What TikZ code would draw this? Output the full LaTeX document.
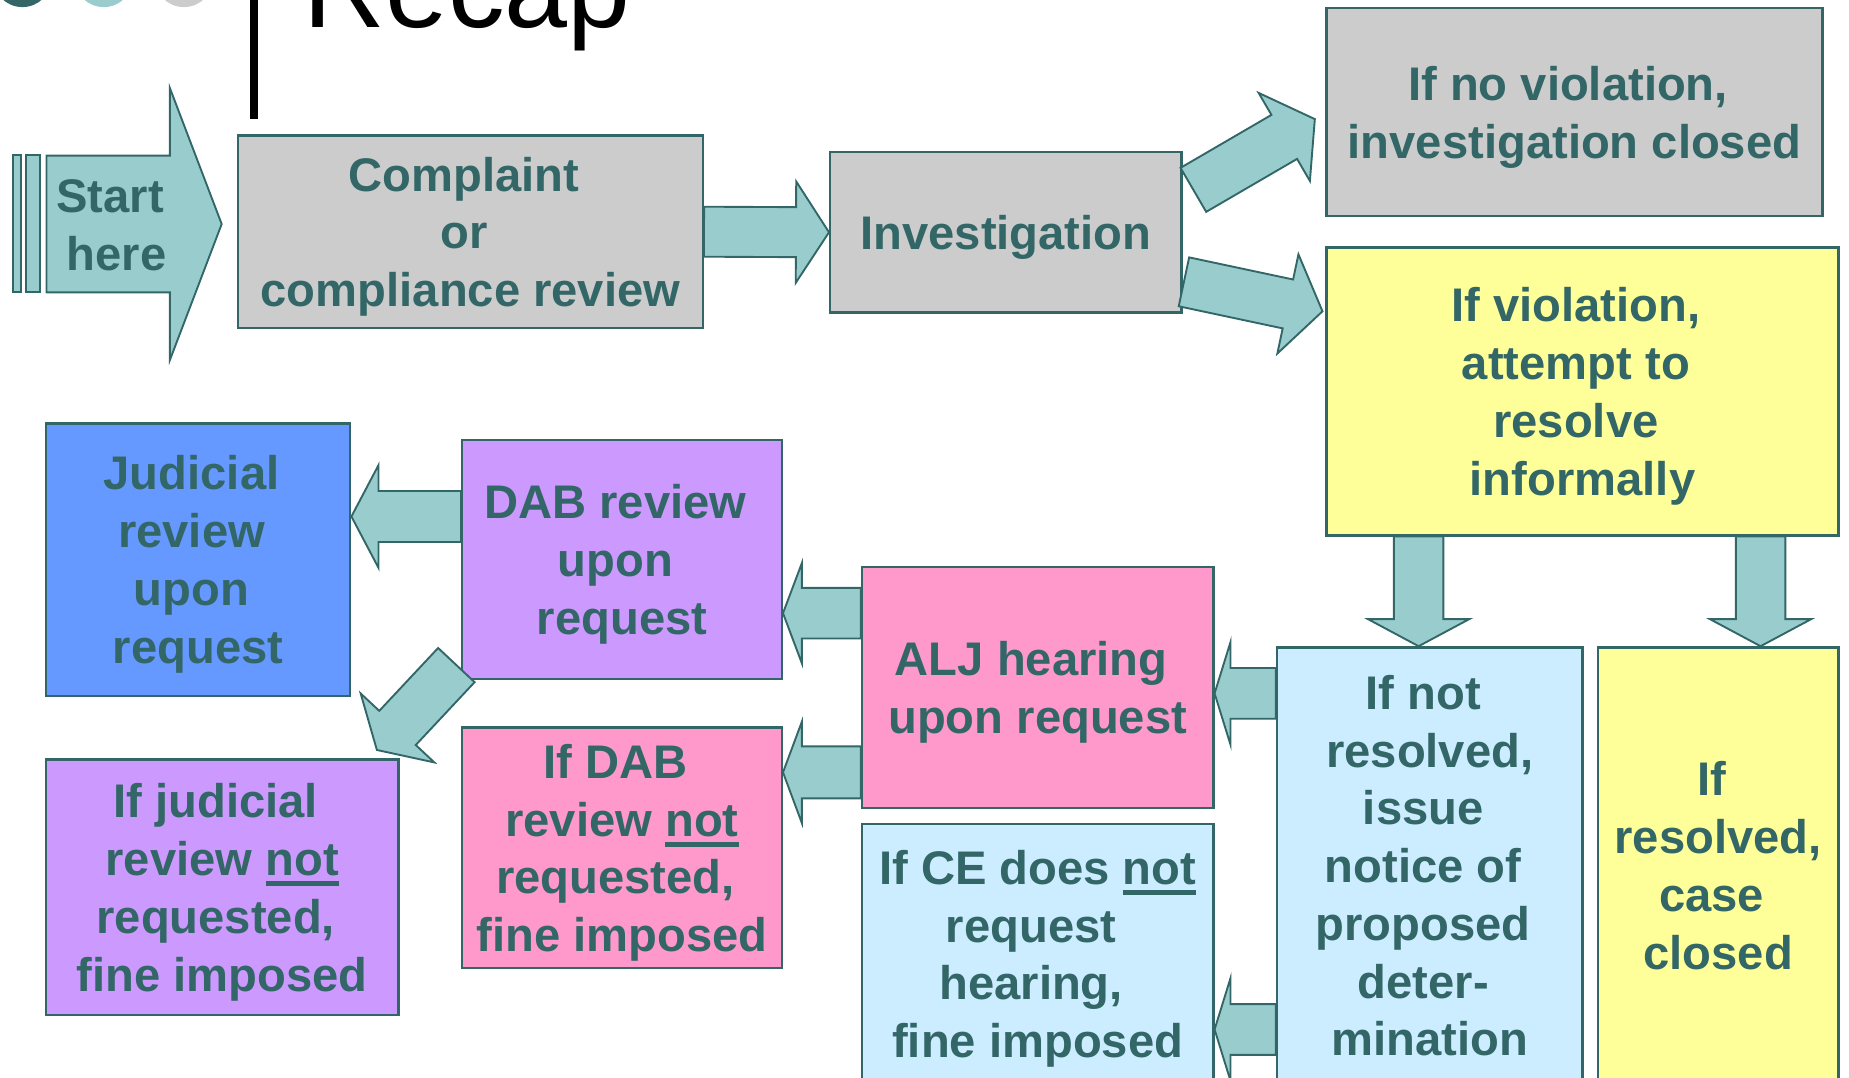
\documentclass[tikz,border=0pt]{standalone}
\usepackage{fontspec}
\setmainfont{Liberation Sans}
\usetikzlibrary{calc}

\definecolor{tealdk}{HTML}{336666}
\definecolor{tealtl}{HTML}{99CCCC}
\definecolor{boxgray}{HTML}{CCCCCC}
\definecolor{boxyel}{HTML}{FFFF99}
\definecolor{boxblue}{HTML}{6699FF}
\definecolor{boxpurp}{HTML}{CC99FF}
\definecolor{boxpink}{HTML}{FF99CC}
\definecolor{boxsky}{HTML}{CCECFF}

\newcommand{\ulword}[1]{\setbox0\hbox{#1}\rlap{\rule[-4.5pt]{\wd0}{2pt}}\box0}
\newcommand{\tsp}{\kern.278em}
% block arrow: shaft half width, head half width, head length, tail, tip
\newcommand{\blkarrow}[5]{%
  \coordinate (ba) at (#4);
  \coordinate (bb) at (#5);
  \coordinate (bh) at ($(bb)!#3!(ba)$);
  \draw[blkarr] ($(ba)!#1!90:(bb)$) -- ($(bh)!#1!90:(bb)$) -- ($(bh)!#2!90:(bb)$)
    -- (bb) -- ($(bh)!#2!-90:(bb)$) -- ($(bh)!#1!-90:(bb)$) -- ($(ba)!#1!-90:(bb)$) -- cycle;}

\begin{document}
\begin{tikzpicture}[
  x=0.5pt, y=-0.5pt,
  box/.style={draw=tealdk, line width=1pt, inner sep=0pt, align=center,
              text=tealdk, font=\fontsize{20pt}{24.5pt}\selectfont\bfseries,
              text depth=0pt},
  blkarr/.style={fill=tealtl, draw=tealdk, line width=0.8pt, line join=miter},
  dot/.style={circle, inner sep=0pt, minimum size=25pt}
]
\useasboundingbox (0,0) rectangle (1568,914);
\clip (0,0) rectangle (1568,914);

%--- title ---------------------------------------------------------------------
\node[dot, fill=tealdk] (d1) at (19,-19) {};
\node[dot, fill=tealtl] (d2) at (88,-19) {};
\node[dot, fill=boxgray] (d3) at (156,-19) {};
\draw[line width=3.5pt] (215.5,-10) -- (215.5,101);
\node[anchor=base west, inner sep=0pt, font=\fontsize{48pt}{56pt}\selectfont] (ttl) at (257,23) {Recap};

%--- start ---------------------------------------------------------------------
\fill[tealtl, draw=tealdk, line width=0.8pt] (11.4,131.7) rectangle (17.8,247.7);
\fill[tealtl, draw=tealdk, line width=0.8pt] (22,131.7) rectangle (34,247.7);
\coordinate (st0) at (39.4,190);
\coordinate (st1) at (188,190);
\blkarrow{29pt}{57.75pt}{22pt}{st0}{st1}
\node[box, draw=none] (start) at (99,191) {Start\tsp\\here};

%--- top row -------------------------------------------------------------------
\node[box, fill=boxgray, minimum width=197pt, minimum height=81.5pt] (cmp) at (399,196.5)
  {Complaint\tsp\\or\tsp\\compliance review};
\node[box, fill=boxgray, minimum width=149pt, minimum height=68pt] (inv) at (853,197)
  {Investigation};
\node[box, fill=boxgray, minimum width=210.25pt, minimum height=88pt] (nov) at (1335.25,95)
  {If no violation,\tsp\\investigation closed};
\node[box, fill=boxyel, minimum width=217pt, minimum height=122pt] (vio) at (1342,332)
  {If violation,\tsp\\attempt to\tsp\\resolve\tsp\\informally};

%--- right column --------------------------------------------------------------
\node[box, fill=boxsky, minimum width=129.5pt, minimum height=185pt] (nres) at (1212.5,734)
  {If not\tsp\\resolved,\\issue\tsp\\notice of\tsp\\proposed\tsp\\deter-\tsp\\mination};
\node[box, fill=boxyel, minimum width=102pt, minimum height=185pt] (res) at (1457,734)
  {If\tsp\\resolved,\\case\tsp\\closed};

%--- middle --------------------------------------------------------------------
\node[box, fill=boxpink, minimum width=149pt, minimum height=102pt] (alj) at (880,583)
  {ALJ hearing\tsp\\upon request};
\node[box, fill=boxsky, minimum width=149pt, minimum height=110pt] (ce) at (880,809)
  {If CE does \ulword{not}\\request\tsp\\hearing,\tsp\\fine imposed};
\node[box, fill=boxpurp, minimum width=135.5pt, minimum height=101.5pt] (dab) at (527.5,474.5)
  {DAB review\tsp\\upon\tsp\\request};
\node[box, fill=boxpink, minimum width=135.5pt, minimum height=102pt] (dnot) at (527.5,719)
  {If DAB\tsp\\review \ulword{not}\\requested,\tsp\\fine imposed};

%--- left column ---------------------------------------------------------------
\node[box, fill=boxblue, minimum width=129pt, minimum height=115.5pt] (jud) at (168,474.5)
  {Judicial\tsp\\review\tsp\\upon\tsp\\request};
\node[box, fill=boxpurp, minimum width=149.5pt, minimum height=108.5pt] (jnot) at (188.5,752.5)
  {If judicial\tsp\\review \ulword{not}\\requested,\tsp\\fine imposed};

%--- block arrows --------------------------------------------------------------
\blkarrow{10.6pt}{21.5pt}{14pt}{cmp.east}{inv.west}
\blkarrow{10.8pt}{21.6pt}{15pt}{$(inv.east)+(9,-36)$}{$(nov.west)+(-9,6)$}
\blkarrow{10.6pt}{21.5pt}{15pt}{$(inv.east)+(1,42)$}{$(vio.west)+(-2.5,-68)$}
\coordinate (e1) at ($(nres.north)+(-9.5,0)$);
\coordinate (e2) at ($(res.north)+(36,0)$);
\blkarrow{10.5pt}{21.5pt}{11.5pt}{vio.south -| e1}{e1}
\blkarrow{10.5pt}{21.5pt}{11.5pt}{vio.south -| e2}{e2}
\coordinate (f1) at ($(alj.east)+(0,5)$);
\coordinate (g1) at ($(ce.east)+(0,64)$);
\blkarrow{10.75pt}{21.8pt}{6.75pt}{nres.west |- f1}{f1}
\blkarrow{10.75pt}{21.8pt}{6.75pt}{nres.west |- g1}{g1}
\coordinate (h1) at ($(dab.east)+(0,45.5)$);
\coordinate (i1) at ($(dnot.east)+(0,-64)$);
\blkarrow{10.75pt}{21.25pt}{8pt}{alj.west |- h1}{h1}
\blkarrow{11pt}{21.5pt}{8pt}{alj.west |- i1}{i1}
\coordinate (j1) at ($(jud.east)+(0,-36.5)$);
\blkarrow{10.8pt}{21.8pt}{11.5pt}{dab.west |- j1}{j1}
\blkarrow{10.6pt}{21.4pt}{12.8pt}{$(dab.south west)+(-4,-13)$}{$(jnot.north east)+(-19.4,-7)$}
\end{tikzpicture}
\end{document}
